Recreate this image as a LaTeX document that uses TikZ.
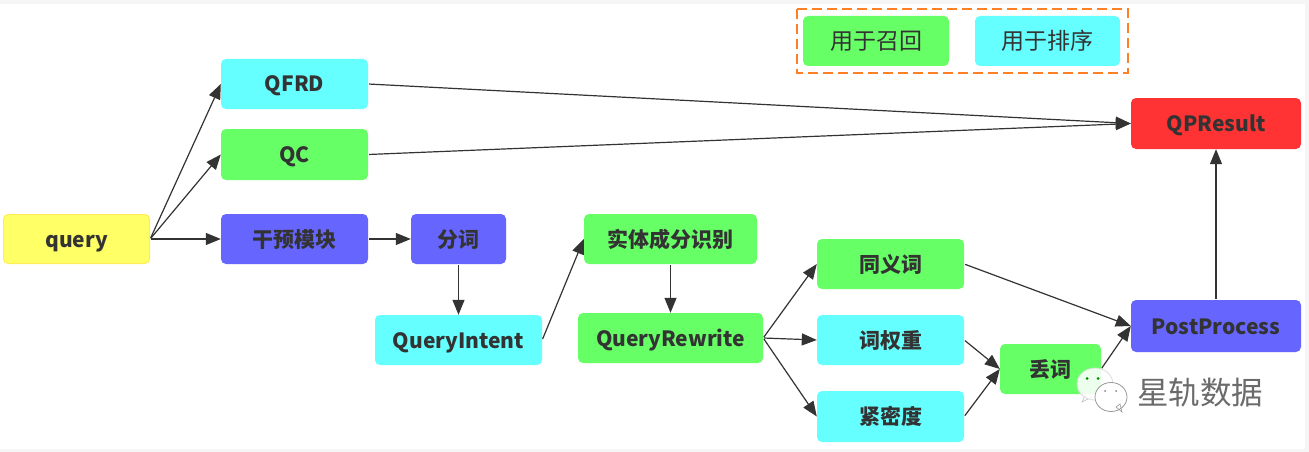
\documentclass[tikz,border=0pt]{standalone}
\usepackage{fontspec}
\setmainfont{Noto Sans}
\newfontfamily\cjk{Noto Sans CJK SC}
\usetikzlibrary{arrows.meta}
\definecolor{gr}{HTML}{66FF66}
\definecolor{cy}{HTML}{66FFFF}
\definecolor{bl}{HTML}{6666FF}
\definecolor{re}{HTML}{FF3333}
\definecolor{ye}{HTML}{FFFF66}
\definecolor{ink}{HTML}{333333}
\definecolor{dashc}{HTML}{FF7F24}
\tikzset{
  x=1pt,y=-1pt,
  boxn/.style={rounded corners=5pt,text=ink,font=\fontsize{21}{24}\selectfont\bfseries\cjk,inner sep=0pt,anchor=center,text height=18pt,text depth=2pt},
  legn/.style={boxn,font=\fontsize{23}{26}\selectfont\cjk},
  arw/.style={draw=ink,line width=1.2pt,-{Triangle[length=15pt,width=12pt]},shorten <=1pt},
}
\newcommand{\bx}[8][boxn]{% style name x1 y1 x2 y2 colour text
  \fill[#7,rounded corners=5pt] (#3,#4) rectangle (#5,#6);
  \node[#1,minimum width=#5pt-#3pt,minimum height=#6pt-#4pt] (#2) at ({(#3+#5)/2},{(#4+#6)/2}) {#8};
}
\begin{document}
\begin{tikzpicture}
\useasboundingbox (0,0) rectangle (1309,452);
\fill[black!4] (0,0) rectangle (1309,452);
\fill[white] (0,4) rectangle (1305,449);
\draw[dashc,line width=2pt,dash pattern=on 10pt off 5pt] (797,9) rectangle (1128,73);
\bx[legn]{lg}{803}{16}{949}{66}{gr}{用于召回}
\bx[legn]{lc}{975}{16}{1120}{66}{cy}{用于排序}
\bx{query}{3}{214}{150}{264}{ye}{query}
\draw[ye!85!orange,line width=.8pt,rounded corners=5pt] (3.5,214.5) rectangle (149.5,263.5);
\bx{qfrd}{221}{59}{368}{109}{cy}{QFRD}
\bx{qc}{221}{129}{368}{180}{gr}{QC}
\bx{gy}{221}{214}{368}{264}{bl}{干预模块}
\bx{fc}{411}{214}{506}{264}{bl}{分词}
\bx{qi}{375}{315}{542}{365}{cy}{QueryIntent}
\bx{st}{584}{214}{757}{264}{gr}{实体成分识别}
\bx{qr}{578}{313}{763}{363}{gr}{QueryRewrite}
\bx{ty}{817}{239}{964}{289}{gr}{同义词}
\bx{cq}{817}{315}{964}{365}{cy}{词权重}
\bx{jm}{817}{391}{964}{442}{cy}{紧密度}
\bx{dc}{1000}{344}{1101}{394}{gr}{丢词}
\bx{pp}{1131}{300}{1301}{352}{bl}{PostProcess}
\bx{qp}{1131}{98}{1301}{149}{re}{QPResult}
\draw[arw] (query.east) -- (qfrd.west);
\draw[arw] (query.east) -- (qc.west);
\draw[arw] (query.east) -- (gy.west);
\draw[arw] (qfrd.east) -- (qp.west);
\draw[arw] (qc.east) -- (qp.west);
\draw[arw] (gy.east) -- (fc.west);
\draw[arw] (fc.south) -- (qi.north);
\draw[arw] (qi.east) -- (st.west);
\draw[arw] (st.south) -- (qr.north);
\draw[arw] (qr.east) -- (ty.west);
\draw[arw] (qr.east) -- (cq.west);
\draw[arw] (qr.east) -- (jm.west);
\draw[arw] (ty.east) -- (pp.west);
\draw[arw] (cq.east) -- (dc.west);
\draw[arw] (jm.east) -- (dc.west);
\draw[arw] (dc.east) -- (pp.west);
\draw[arw] (pp.north) -- (qp.south);
% watermark
\begin{scope}
\fill[white,opacity=.88,draw=gray!60,line width=.6pt] (1087,392) -- (1082,402) -- (1092,397) -- cycle;
\fill[white,opacity=.88] (1095,384) ellipse (18 and 16);
\draw[white!70!gray,line width=.7pt] (1095,384) ellipse (18 and 16);
\fill[green!55!black] (1087,378.5) circle (1.5);
\fill[green!55!black] (1098,378.5) circle (1.5);
\fill[white] (1111,397) ellipse (16 and 14.5);
\fill[white,draw=gray!80,line width=.6pt] (1116,407) -- (1122,412) -- (1120,404) -- cycle;
\draw[gray!80,line width=.8pt] (1111,397) ellipse (16 and 14.5);
\fill[gray] (1105,391) circle (1);
\fill[gray] (1116,391) circle (1);
\node[font=\fontsize{31.5}{32}\selectfont\cjk,text=black!58,inner sep=0pt] (wm) at (1200,393) {星轨数据};
\end{scope}
\end{tikzpicture}
\end{document}
